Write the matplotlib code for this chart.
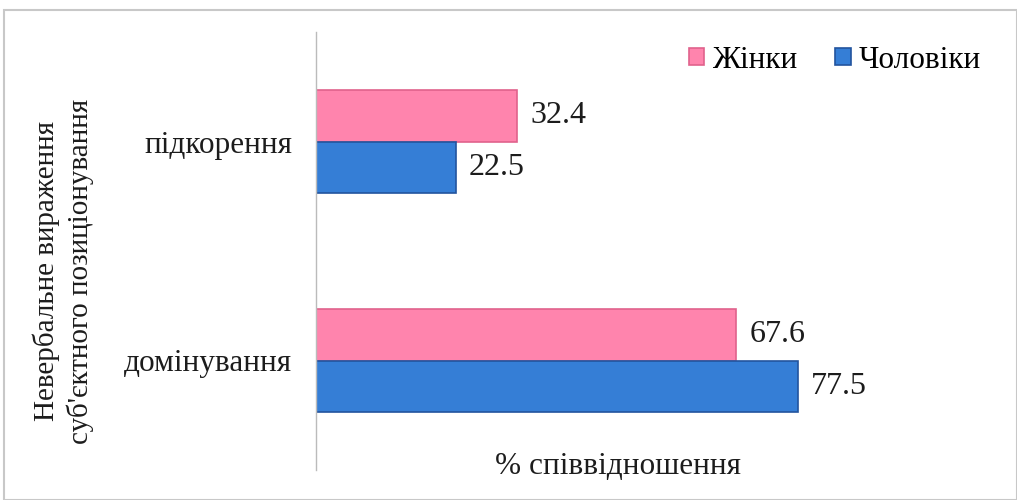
import matplotlib
matplotlib.use("Agg")
import matplotlib.pyplot as plt
import numpy as np
from matplotlib.patches import Rectangle

plt.rcParams['font.family'] = ['Liberation Serif', 'DejaVu Serif']

# ─── Дані ─────────────────────────────────────────────────────────
categories = ["підкорення", "домінування"]
series_names = ["Жінки", "Чоловіки"]
women = [32.4, 67.6]
men = [22.5, 77.5]

pink = "#FF84AD"
pink_edge = "#E0628C"
blue = "#357ED6"
blue_edge = "#22549E"
txt = "#1c1c1c"

fig = plt.figure(figsize=(10.17, 5.0), dpi=100)
ax = fig.add_axes([0.3107, 0.06, 0.66, 0.876])

y = np.arange(len(categories))
h = 0.236
b1 = ax.barh(y - h / 2, women, height=h, color=pink, edgecolor=pink_edge,
             linewidth=1.2, label=series_names[0])
b2 = ax.barh(y + h / 2, men, height=h, color=blue, edgecolor=blue_edge,
             linewidth=1.2, label=series_names[1])

for bars, vals in [(b1, women), (b2, men)]:
    for bar, v in zip(bars, vals):
        ax.text(v + 2.1, bar.get_y() + bar.get_height() / 2, f"{v:.1f}",
                va="center", ha="left", fontsize=23, color=txt)

ax.set_xlim(0, 108)
ax.set_ylim(1.5, -0.5)
ax.set_yticks(y)
ax.set_yticklabels(categories, fontsize=22.5, color=txt)
ax.tick_params(axis="y", length=0, pad=17)
ax.set_xticks([])
for s in ["top", "right", "bottom"]:
    ax.spines[s].set_visible(False)
ax.spines["left"].set_color("#BBBBBB")
ax.spines["left"].set_linewidth(1.0)

fig.text(0.608, 0.068, "% співвідношення", ha="center", va="center",
         fontsize=22.5, color=txt)

fig.text(0.062, 0.458, "Невербальне вираження\nсуб'єктного позиціонування",
         rotation=90, ha="center", va="center", fontsize=21,
         color=txt, linespacing=1.32)

fig.legend(handles=[b1, b2], labels=series_names, loc="center right",
           bbox_to_anchor=(0.992, 0.88), ncol=2, frameon=False, fontsize=22.5,
           handlelength=0.5, handleheight=0.5, handletextpad=0.25,
           columnspacing=1.2)

fig.patches.append(Rectangle((0.004, 0.0), 0.996, 0.98, transform=fig.transFigure,
                             fill=False, edgecolor="#C8C8C8", linewidth=1.5))

fig.savefig("out.png", dpi=100)
